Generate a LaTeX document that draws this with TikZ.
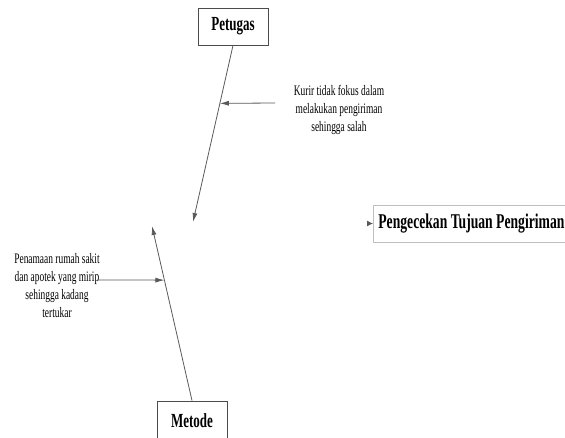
\documentclass[tikz,border=0pt]{standalone}
\usepackage{fontspec}
\setmainfont{Liberation Serif}[FakeStretch=0.65]
\usetikzlibrary{arrows.meta, calc}

\begin{document}
\begin{tikzpicture}[x=1pt,y=-1pt,
    every node/.style={font=\fontsize{14.5}{18}\selectfont, text=black},
    bone/.style={draw=black!65, line width=0.8pt, -{Latex[length=9pt,width=5pt]}},
    catbox/.style={draw=black!70, line width=0.9pt, fill=white, font=\bfseries\fontsize{20}{22}\selectfont, minimum width=70pt, minimum height=37pt, inner sep=0pt}]
    \path[use as bounding box, clip] (0,0) rectangle (565,437);
    \node[catbox] (petugas) at (233,26.5) {Petugas};
    \node[catbox, minimum height=40pt] (metode) at (192,421) {Metode};
    \node[draw=black!25, line width=0.8pt, anchor=west, minimum height=37pt, inner xsep=5pt, font=\bfseries\fontsize{21}{23}\selectfont] (head) at (373,223.5) {Pengecekan Tujuan Pengiriman};
    \node[align=center] (kurir) at (339,110) {Kurir tidak fokus dalam\\melakukan pengiriman\\sehingga salah};
    \node[align=center] (penamaan) at (57,286) {Penamaan rumah sakit\\dan apotek yang mirip\\sehingga kadang\\tertukar};
    % tulang utama
    \coordinate (tipA) at (193,222);
    \coordinate (tipB) at (152,226);
    \coordinate (spine) at (367.5,223.5);
    \draw[bone] (petugas.south) -- (tipA);
    \draw[bone] (metode.north) -- (tipB);
    \draw[bone, -{Latex[length=6pt,width=6pt]}] (spine) -- (head.west);
    % sebab
    \coordinate (k1) at (275,103);
    \coordinate (p1) at (97,280);
    \draw[bone] (k1) -- ($(petugas.south)!0.328!(tipA)$);
    \draw[bone] (p1) -- ($(metode.north)!0.69!(tipB)$);
\end{tikzpicture}
\end{document}
